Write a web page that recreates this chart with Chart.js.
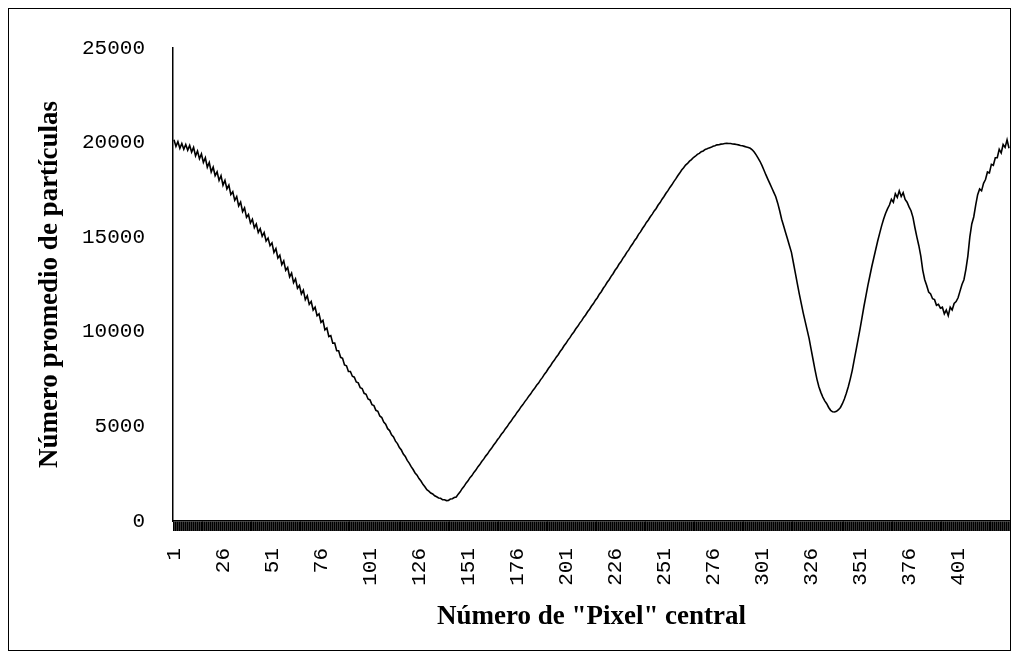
<!DOCTYPE html>
<html><head><meta charset="utf-8">
<script src="https://cdn.jsdelivr.net/npm/chart.js@4.4.0/dist/chart.umd.min.js"></script>
<style>html,body{margin:0;padding:0;background:#fff;} canvas{display:block;}</style>
</head><body>
<canvas id="c" width="1016" height="656"></canvas>
<script>
// Número promedio de partículas por "pixel" central
const values = [
20150,19800,20050,19700,19950,19650,19900,19600,19850,19500,
19750,19300,19550,19150,19400,18950,19200,18700,18950,18450,
18700,18250,18450,18000,18250,17750,18000,17550,17750,17250,
17400,16950,17150,16650,16850,16350,16550,16050,16200,15750,
15950,15500,15700,15250,15450,15050,15250,14800,14950,14550,
14700,14200,14400,13900,14050,13550,13750,13250,13400,12900,
13100,12600,12800,12300,12450,12000,12200,11700,11900,11450,
11600,11150,11300,10850,10950,10500,10600,10100,10200,9750,
9800,9400,9400,9000,9000,8650,8600,8250,8200,7900,
7900,7650,7600,7350,7300,7050,7000,6750,6700,6450,
6400,6150,6100,5850,5800,5550,5470,5230,5120,4880,
4780,4560,4440,4220,4090,3880,3750,3540,3410,3200,
3060,2870,2720,2540,2420,2240,2110,1940,1810,1650,
1580,1480,1430,1330,1280,1220,1200,1130,1120,1080,
1090,1160,1180,1240,1270,1420,1540,1710,1830,2000,
2120,2290,2400,2570,2690,2860,2980,3140,3270,3430,
3550,3720,3840,4000,4130,4290,4420,4580,4700,4870,
4990,5160,5280,5450,5570,5740,5860,6030,6150,6310,
6440,6600,6720,6890,7010,7170,7290,7460,7590,7760,
7890,8060,8190,8360,8490,8660,8790,8960,9090,9260,
9390,9560,9690,9860,9990,10160,10290,10460,10590,10760,
10890,11060,11190,11360,11490,11670,11800,11990,12120,12300,
12440,12620,12750,12930,13070,13250,13380,13570,13700,13880,
14020,14200,14330,14510,14650,14830,14960,15150,15280,15460,
15600,15780,15910,16080,16220,16390,16520,16700,16830,17010,
17150,17320,17460,17630,17770,17940,18080,18250,18390,18550,
18670,18810,18900,19020,19100,19210,19280,19380,19430,19520,
19560,19640,19670,19720,19750,19810,19830,19880,19890,19920,
19930,19950,19960,19950,19950,19930,19920,19900,19880,19850,
19830,19800,19770,19740,19700,19620,19500,19350,19180,19000,
18780,18540,18290,18060,17830,17600,17370,17140,16800,16400,
15950,15600,15250,14900,14550,14200,13650,13100,12550,12000,
11500,11000,10550,10100,9650,9100,8550,8000,7500,7100,
6800,6550,6350,6200,6000,5850,5770,5760,5800,5880,
6000,6200,6450,6750,7100,7500,7950,8500,9050,9600,
10150,10750,11350,11900,12450,12950,13450,13900,14350,14800,
15200,15600,15950,16250,16500,16700,17000,16850,17300,17100,
17450,17150,17350,17000,16850,16600,16400,16050,15500,15000,
14550,14000,13250,12750,12450,12100,12000,11750,11700,11400,
11450,11250,11300,10950,11150,10850,11300,11150,11500,11600,
11800,12150,12500,12750,13300,14000,15000,15700,16070,16700,
17250,17550,17450,17850,18050,18450,18400,18850,18800,19200,
19200,19650,19450,19900,19750,20150,19700
];
// Categorías: número de "pixel" central (1, 2, 3, ...)
const categories = values.map((_, i) => String(i + 1));
// Etiquetas visibles del eje X
const tickLabels = ['1','26','51','76','101','126','151','176','201','226','251','276','301','326','351','376','401'];
// Eje Y
const yMin = 0, yMax = 25000, yStep = 5000;
const xTitle = 'Número de "Pixel" central';
const yTitle = 'Número promedio de partículas';

const frame = {
  id: 'frame',
  beforeDraw(chart) {
    const c = chart.ctx; c.save(); c.fillStyle = '#fff';
    c.fillRect(0, 0, chart.width, chart.height); c.restore();
  },
  afterDraw(chart) {
    const c = chart.ctx; c.save(); c.strokeStyle = '#000'; c.lineWidth = 1;
    c.strokeRect(8.5, 8.5, chart.width - 14, chart.height - 14); c.restore();
  }
};

const tickFont = { family: 'Liberation Mono', size: 21 };
const titleFont = { family: 'Liberation Serif', size: 27, weight: 'bold' };

new Chart(document.getElementById('c'), {
  type: 'line',
  data: {
    labels: categories,
    datasets: [{
      data: values,
      borderColor: '#000',
      borderWidth: 1.6,
      pointRadius: 0,
      tension: 0,
      fill: false
    }]
  },
  options: {
    responsive: false,
    animation: false,
    devicePixelRatio: 1,
    layout: { padding: { top: 48, right: 6, left: 0, bottom: 0 } },
    plugins: { legend: { display: false }, tooltip: { enabled: false } },
    scales: {
      x: {
        type: 'category',
        offset: true,
        grid: { display: true, drawOnChartArea: false, drawTicks: true, tickLength: 10, color: '#000', lineWidth: 1.8 },
        border: { display: true, color: '#000', width: 1.5 },
        ticks: {
          autoSkip: false, maxRotation: 90, minRotation: 90, padding: 17, color: '#000', font: tickFont,
          callback(v, i) { const l = categories[i]; return tickLabels.includes(l) ? l : ''; }
        },
        title: { display: true, text: xTitle, color: '#000', font: titleFont, padding: { top: 0, bottom: 23 } },
        afterFit(s) { s.height = 135; s.paddingLeft = 0; s.paddingRight = 0; }
      },
      y: {
        min: yMin, max: yMax,
        ticks: { stepSize: yStep, padding: 20, color: '#000', font: tickFont, callback: v => String(v) },
        grid: { display: false },
        border: { display: true, color: '#000', width: 1.5 },
        title: { display: true, text: yTitle, color: '#000', font: titleFont, padding: { top: 34, bottom: 0 } },
        afterFit(s) { s.width = 173; }
      }
    }
  },
  plugins: [frame]
});
</script>
</body></html>
